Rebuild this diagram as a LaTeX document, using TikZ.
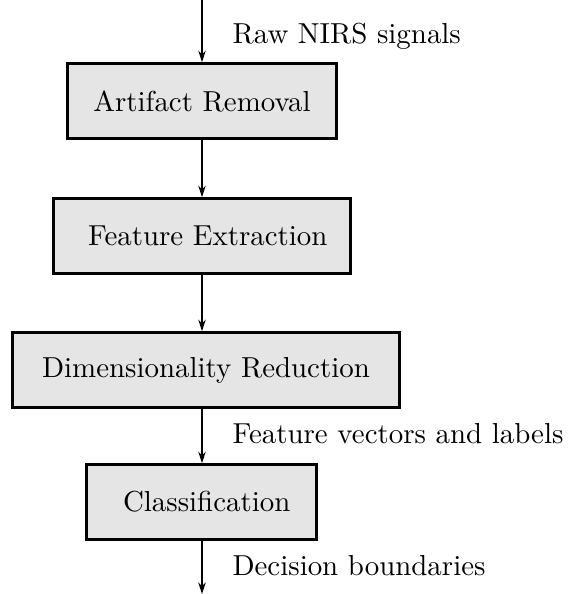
\documentclass[tikz,border=0pt]{standalone}
\usetikzlibrary{arrows.meta}
\begin{document}
\begin{tikzpicture}[x=0.346pt,y=-0.346pt,
  stage/.style={draw=black, line width=0.9pt, fill=black!10, inner sep=0pt,
    minimum height=26pt},
  flow/.style={-{Stealth[length=4pt,width=2.6pt]}, line width=0.4pt},
  note/.style={anchor=base west, inner sep=0pt}]
\useasboundingbox (0,0) rectangle (568,594);

% processing stages
\node[stage, minimum width=93.2pt]  (b1) at (202,101) {Artifact Removal};
\node[stage, minimum width=102.9pt] (b2) at (202,236) {\hspace{4pt}Feature Extraction};
\node[stage, minimum width=134pt]   (b3) at (206,370) {Dimensionality Reduction};
\node[stage, minimum width=79.7pt]  (b4) at (201.5,502) {\hspace{3.6pt}Classification};

% free ends of the pipeline
\coordinate (in)  at (202,0);
\coordinate (out) at (202,594);

% connectors
\draw[flow] (in) -- (in |- b1.north);
\draw[flow] (b1.south) -- (b1.south |- b2.north);
\draw[flow] (b2.south) -- (b2.south |- b3.north);
\draw[flow] (b2.south |- b3.south) -- (b2.south |- b4.north);
\draw[flow] (b2.south |- b4.south) -- (out);

% data labels
\node[note] (l1) at (232,44)  {Raw NIRS signals};
\node[note] (l2) at (232,443) {Feature vectors and labels};
\node[note] (l3) at (232,575) {Decision boundaries};
\end{tikzpicture}
\end{document}
